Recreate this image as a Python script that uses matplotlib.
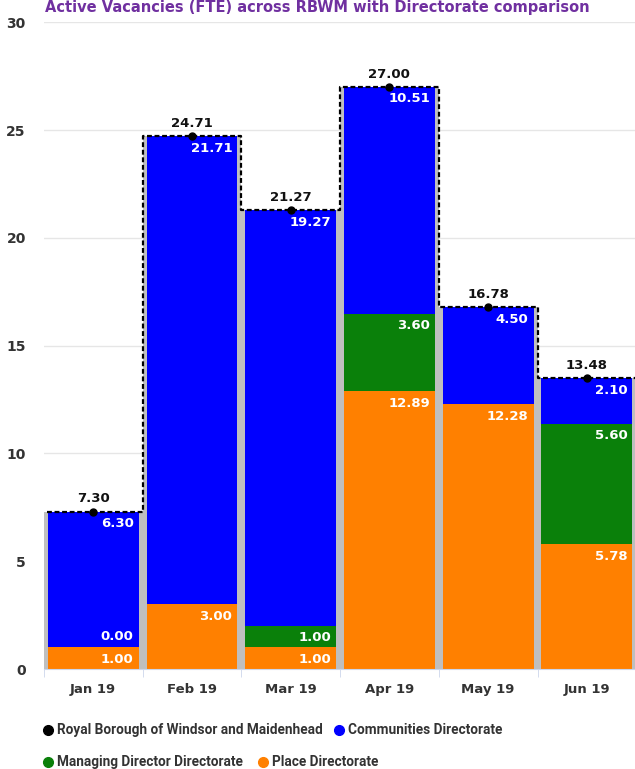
import matplotlib
matplotlib.use("Agg")
import matplotlib.pyplot as plt
from matplotlib.lines import Line2D

plt.rcParams["font.family"] = ["DejaVu Sans"]

months = ["Jan 19", "Feb 19", "Mar 19", "Apr 19", "May 19", "Jun 19"]
place = [1.00, 3.00, 1.00, 12.89, 12.28, 5.78]
managing = [0.00, None, 1.00, 3.60, None, 5.60]
communities = [6.30, 21.71, 19.27, 10.51, 4.50, 2.10]
totals = [7.30, 24.71, 21.27, 27.00, 16.78, 13.48]
yticks = [0, 5, 10, 15, 20, 25, 30]

c_place = "#ff8000"
c_md = "#0a800a"
c_comm = "#0000ff"
c_total = "#000000"

fig = plt.figure(figsize=(6.35, 7.69), dpi=100)
ax = fig.add_axes([0.069, 0.130, 0.933, 0.841])

x = list(range(len(months)))
md_vals = [v if v is not None else 0 for v in managing]

# gray shadow strips
ax.bar(x, totals, width=1.0, color="#bfbfbf", zorder=1)
bw = 0.92
ax.bar(x, place, width=bw, color=c_place, zorder=2)
ax.bar(x, md_vals, width=bw, bottom=place, color=c_md, zorder=2)
bot2 = [p + m for p, m in zip(place, md_vals)]
ax.bar(x, communities, width=bw, bottom=bot2, color=c_comm, zorder=2)

lab_kw = dict(ha="right", color="white", fontsize=9.5, fontweight="bold", zorder=5)
for i in x:
    ax.text(i + 0.41, place[i] - 0.25, f"{place[i]:.2f}", va="top", **lab_kw)
    if managing[i] is not None:
        if managing[i] > 0:
            ax.text(i + 0.41, bot2[i] - 0.25, f"{managing[i]:.2f}", va="top", **lab_kw)
        else:
            ax.text(i + 0.41, bot2[i] + 0.22, f"{managing[i]:.2f}", va="bottom", **lab_kw)
    ax.text(i + 0.41, bot2[i] + communities[i] - 0.25, f"{communities[i]:.2f}", va="top", **lab_kw)

# step line for totals
xs = [-0.47] + x + [5.5]
ys = [totals[0]] + totals + [totals[-1]]
ax.step(xs, ys, where="mid", color=c_total, linestyle=(0, (2.2, 1.2)), lw=1.6, zorder=4)
ax.plot(x, totals, "o", color=c_total, ms=5, zorder=6)
for i in x:
    ax.text(i, totals[i] + 0.3, f"{totals[i]:.2f}", ha="center", va="bottom",
            fontsize=9.5, fontweight="bold", color="#111111", zorder=6)

ax.set_xlim(-0.5, 5.5)
ax.set_ylim(0, 30)
ax.set_yticks(yticks)
ax.set_yticklabels([str(v) for v in yticks], fontsize=10, fontweight="bold", color="#333333")
ax.set_xticks(x)
ax.set_xticklabels(months, fontsize=9.5, fontweight="bold", color="#333333")
ax.set_xticks([i - 0.5 for i in range(7)], minor=True)
ax.tick_params(axis="x", which="major", length=0, pad=10)
ax.tick_params(axis="x", which="minor", length=6, color="#ccd6eb")
ax.tick_params(axis="y", length=0, pad=13)
ax.grid(axis="y", color="#e6e6e6", lw=1, zorder=0)
ax.set_axisbelow(True)
for s in ["left", "right", "top"]:
    ax.spines[s].set_visible(False)
ax.spines["bottom"].set_color("#ccd6eb")

fig.text(0.5, 0.9995, "Active Vacancies (FTE) across RBWM with Directorate comparison",
         ha="center", va="top", color="#7030a0", fontsize=10.5, fontweight="bold")

# legend (manual flow layout)
leg = [("Royal Borough of Windsor and Maidenhead", c_total, 48, 730),
       ("Communities Directorate", c_comm, 339, 730),
       ("Managing Director Directorate", c_md, 48, 762),
       ("Place Directorate", c_place, 263, 762)]
W, H = 635, 769
for name, col, px, py in leg:
    fig.add_artist(Line2D([px / W], [1 - py / H], marker="o", color=col, ms=7, ls="none",
                          transform=fig.transFigure))
    fig.text((px + 9) / W, 1 - py / H, name, ha="left", va="center", fontsize=9.8,
             fontweight="bold", color="#333333", family=["Roboto", "DejaVu Sans"])

fig.savefig("out.png", dpi=100)
